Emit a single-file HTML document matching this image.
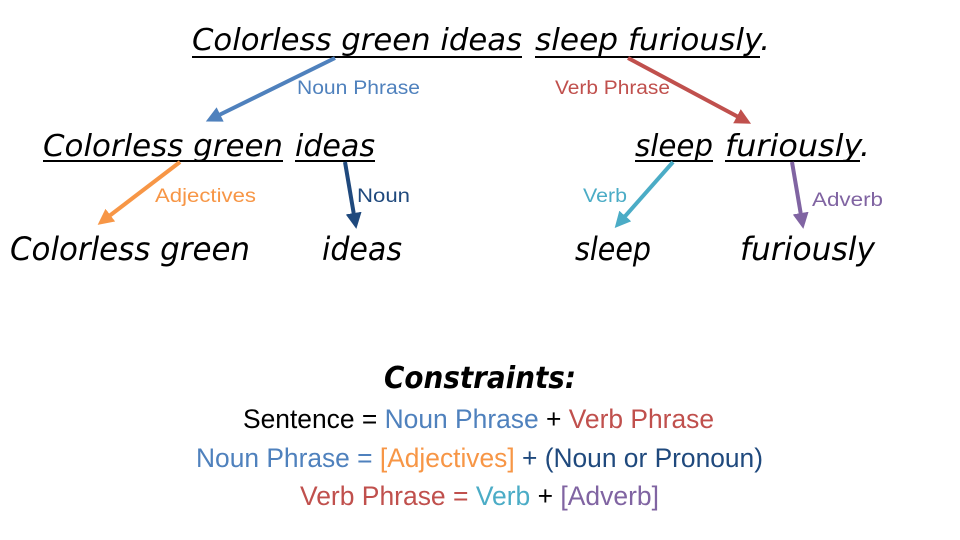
<!DOCTYPE html>
<html><head><meta charset="utf-8"><style>
html,body{margin:0;padding:0;background:#fff;}
svg{display:block;}
.h{font-family:"DejaVu Sans","Liberation Sans",sans-serif;font-style:italic;fill:#000;}
.l{font-family:"Liberation Sans",sans-serif;font-size:19px;}
.c{font-family:"Liberation Sans",sans-serif;font-size:27px;}
</style></head><body>
<svg width="960" height="540" viewBox="0 0 960 540" xmlns="http://www.w3.org/2000/svg">
<defs>
<marker id="mb" markerWidth="4" markerHeight="4" refX="2" refY="2" orient="auto"><path d="M0,0 L4,2 L0,4 z" fill="#4f81bd"/></marker>
<marker id="mr" markerWidth="4" markerHeight="4" refX="2" refY="2" orient="auto"><path d="M0,0 L4,2 L0,4 z" fill="#c0504d"/></marker>
<marker id="mo" markerWidth="4" markerHeight="4" refX="2" refY="2" orient="auto"><path d="M0,0 L4,2 L0,4 z" fill="#f79646"/></marker>
<marker id="mn" markerWidth="4" markerHeight="4" refX="2" refY="2" orient="auto"><path d="M0,0 L4,2 L0,4 z" fill="#1f497d"/></marker>
<marker id="mt" markerWidth="4" markerHeight="4" refX="2" refY="2" orient="auto"><path d="M0,0 L4,2 L0,4 z" fill="#4bacc6"/></marker>
<marker id="mp" markerWidth="4" markerHeight="4" refX="2" refY="2" orient="auto"><path d="M0,0 L4,2 L0,4 z" fill="#8064a2"/></marker>
</defs>
<text class="h" x="192" y="50" font-size="30" textLength="330" lengthAdjust="spacingAndGlyphs">Colorless green ideas</text>
<text class="h" x="535" y="50" font-size="30" textLength="235" lengthAdjust="spacingAndGlyphs">sleep furiously.</text>
<line x1="192" y1="57" x2="522" y2="57" stroke="#000" stroke-width="2"/>
<line x1="535" y1="57" x2="760" y2="57" stroke="#000" stroke-width="2"/>
<text class="h" x="43" y="156" font-size="30" textLength="240" lengthAdjust="spacingAndGlyphs">Colorless green</text>
<text class="h" x="295" y="156" font-size="30" textLength="80" lengthAdjust="spacingAndGlyphs">ideas</text>
<line x1="43" y1="161" x2="283" y2="161" stroke="#000" stroke-width="2"/>
<line x1="295" y1="161" x2="375" y2="161" stroke="#000" stroke-width="2"/>
<text class="h" x="635" y="156" font-size="30" textLength="78" lengthAdjust="spacingAndGlyphs">sleep</text>
<text class="h" x="725" y="156" font-size="30" textLength="145" lengthAdjust="spacingAndGlyphs">furiously.</text>
<line x1="635" y1="161" x2="713" y2="161" stroke="#000" stroke-width="2"/>
<line x1="725" y1="161" x2="860" y2="161" stroke="#000" stroke-width="2"/>
<text class="h" x="10" y="260" font-size="32" textLength="240" lengthAdjust="spacingAndGlyphs">Colorless green</text>
<text class="h" x="322" y="260" font-size="32" textLength="80" lengthAdjust="spacingAndGlyphs">ideas</text>
<text class="h" x="575" y="260" font-size="32" textLength="76" lengthAdjust="spacingAndGlyphs">sleep</text>
<text class="h" x="740" y="260" font-size="32" textLength="135" lengthAdjust="spacingAndGlyphs">furiously</text>
<line x1="335" y1="58" x2="213" y2="118" stroke="#4f81bd" stroke-width="4" marker-end="url(#mb)"/>
<line x1="628" y1="58" x2="744" y2="120" stroke="#c0504d" stroke-width="4" marker-end="url(#mr)"/>
<line x1="180" y1="162" x2="104" y2="220" stroke="#f79646" stroke-width="4" marker-end="url(#mo)"/>
<line x1="345" y1="162" x2="355" y2="221" stroke="#1f497d" stroke-width="4" marker-end="url(#mn)"/>
<line x1="673" y1="162" x2="620" y2="222" stroke="#4bacc6" stroke-width="4" marker-end="url(#mt)"/>
<line x1="792" y1="162" x2="802" y2="221" stroke="#8064a2" stroke-width="4" marker-end="url(#mp)"/>
<text class="l" x="297" y="94" fill="#4f81bd" textLength="123" lengthAdjust="spacingAndGlyphs">Noun Phrase</text>
<text class="l" x="555" y="94" fill="#c0504d" textLength="115" lengthAdjust="spacingAndGlyphs">Verb Phrase</text>
<text class="l" x="155" y="202" fill="#f79646" textLength="101" lengthAdjust="spacingAndGlyphs">Adjectives</text>
<text class="l" x="357" y="202" fill="#1f497d" textLength="53" lengthAdjust="spacingAndGlyphs">Noun</text>
<text class="l" x="583" y="202" fill="#4bacc6" textLength="44" lengthAdjust="spacingAndGlyphs">Verb</text>
<text class="l" x="812" y="206" fill="#8064a2" textLength="71" lengthAdjust="spacingAndGlyphs">Adverb</text>
<text class="h" x="480" y="388" font-size="30" font-weight="bold" text-anchor="middle" textLength="192" lengthAdjust="spacingAndGlyphs">Constraints:</text>
<text class="c" x="243" y="428" textLength="471" lengthAdjust="spacingAndGlyphs"><tspan fill="#000">Sentence = </tspan><tspan fill="#4f81bd">Noun Phrase</tspan><tspan fill="#000"> + </tspan><tspan fill="#c0504d">Verb Phrase</tspan></text>
<text class="c" x="196" y="467" textLength="567" lengthAdjust="spacingAndGlyphs"><tspan fill="#4f81bd">Noun Phrase = </tspan><tspan fill="#f79646">[Adjectives]</tspan><tspan fill="#1f497d"> + (Noun or Pronoun)</tspan></text>
<text class="c" x="300" y="505" textLength="359" lengthAdjust="spacingAndGlyphs"><tspan fill="#c0504d">Verb Phrase = </tspan><tspan fill="#4bacc6">Verb</tspan><tspan fill="#000"> + </tspan><tspan fill="#8064a2">[Adverb]</tspan></text>
</svg>
</body></html>
